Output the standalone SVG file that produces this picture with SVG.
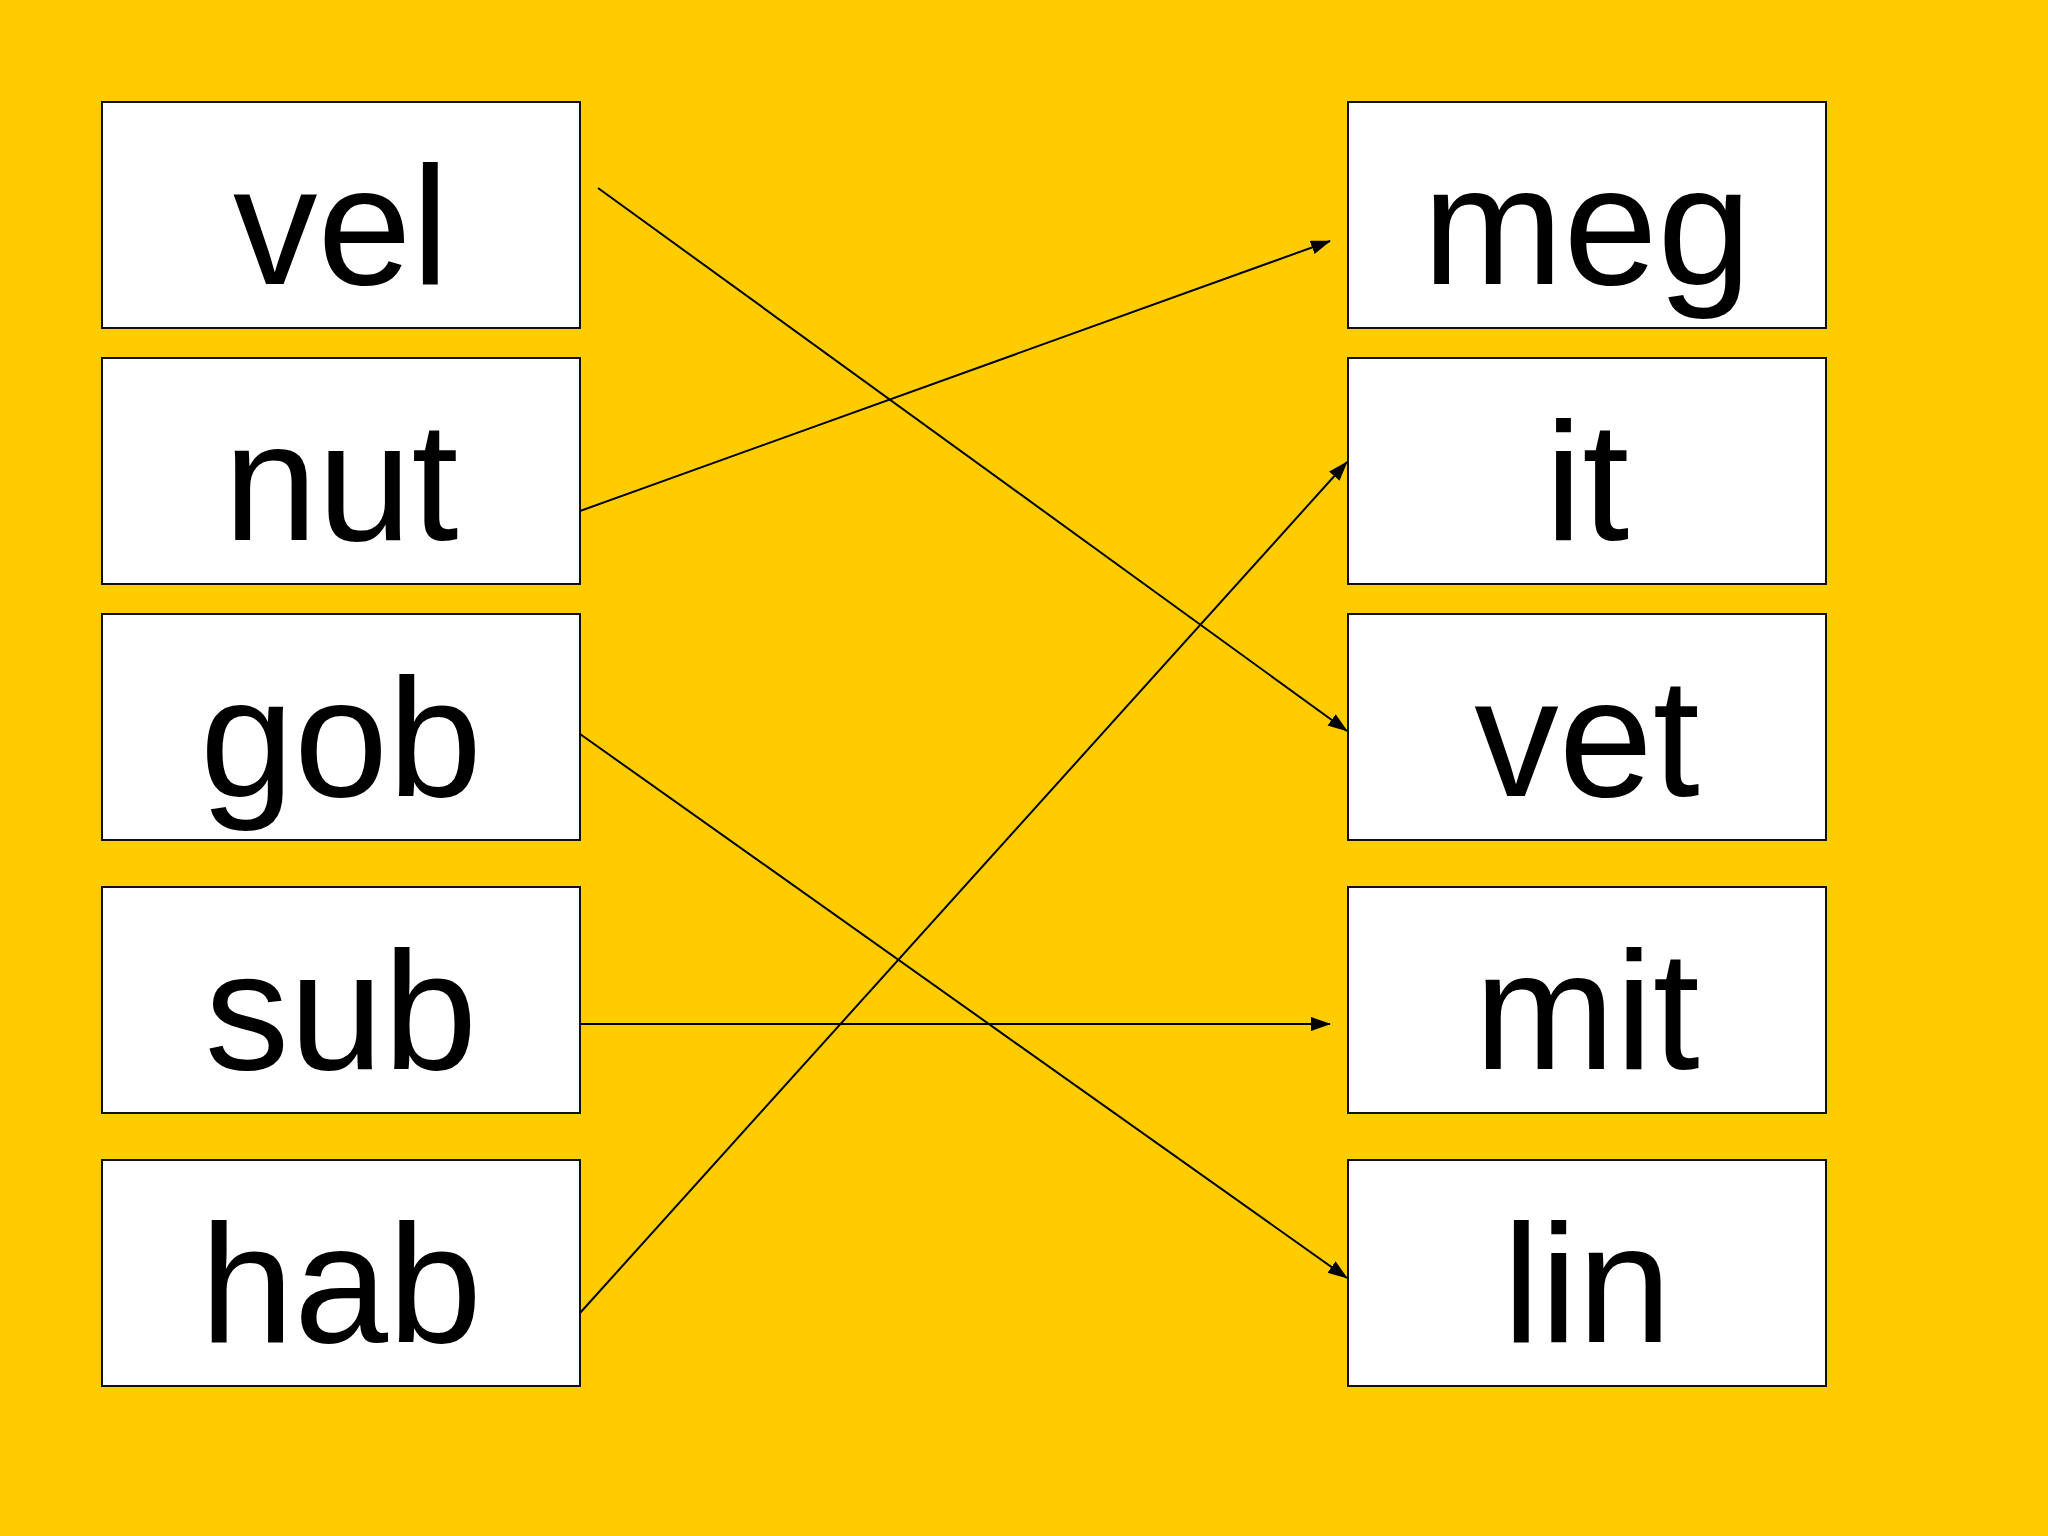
<svg xmlns="http://www.w3.org/2000/svg" width="2048" height="1536" viewBox="0 0 2048 1536">
<style>
.box{fill:#ffffff;stroke:#111111;stroke-width:2}
.lbl{font-family:"Liberation Sans",Arial,sans-serif;font-size:169px;fill:#000000;text-anchor:middle}
.conn{stroke:#000000;stroke-width:2;fill:none;marker-end:url(#arr)}
</style>
<defs>
<marker id="arr" markerUnits="userSpaceOnUse" markerWidth="20" markerHeight="14" refX="19" refY="7" orient="auto">
<path d="M0,0 L20,7 L0,14 Z" fill="#000000"/>
</marker>
</defs>
<rect x="0" y="0" width="2048" height="1536" fill="#ffcc00"/>
<g id="node-vel"><rect class="box" x="102" y="102" width="478" height="226"/><text class="lbl" x="341" y="284">vel</text></g>
<g id="node-nut"><rect class="box" x="102" y="358" width="478" height="226"/><text class="lbl" x="341" y="540">nut</text></g>
<g id="node-gob"><rect class="box" x="102" y="614" width="478" height="226"/><text class="lbl" x="341" y="796">gob</text></g>
<g id="node-sub"><rect class="box" x="102" y="887" width="478" height="226"/><text class="lbl" x="341" y="1069">sub</text></g>
<g id="node-hab"><rect class="box" x="102" y="1160" width="478" height="226"/><text class="lbl" x="341" y="1342">hab</text></g>
<g id="node-meg"><rect class="box" x="1348" y="102" width="478" height="226"/><text class="lbl" x="1587" y="284">meg</text></g>
<g id="node-it"><rect class="box" x="1348" y="358" width="478" height="226"/><text class="lbl" x="1587" y="540">it</text></g>
<g id="node-vet"><rect class="box" x="1348" y="614" width="478" height="226"/><text class="lbl" x="1587" y="796">vet</text></g>
<g id="node-mit"><rect class="box" x="1348" y="887" width="478" height="226"/><text class="lbl" x="1587" y="1069">mit</text></g>
<g id="node-lin"><rect class="box" x="1348" y="1160" width="478" height="226"/><text class="lbl" x="1587" y="1342">lin</text></g>
<g id="connectors">
<line class="conn" x1="598" y1="188" x2="1347" y2="731"/>
<line class="conn" x1="580" y1="511" x2="1330" y2="241"/>
<line class="conn" x1="580" y1="734" x2="1347" y2="1278"/>
<line class="conn" x1="580" y1="1024" x2="1330" y2="1024"/>
<line class="conn" x1="580" y1="1313" x2="1347" y2="462"/>
</g>
</svg>
